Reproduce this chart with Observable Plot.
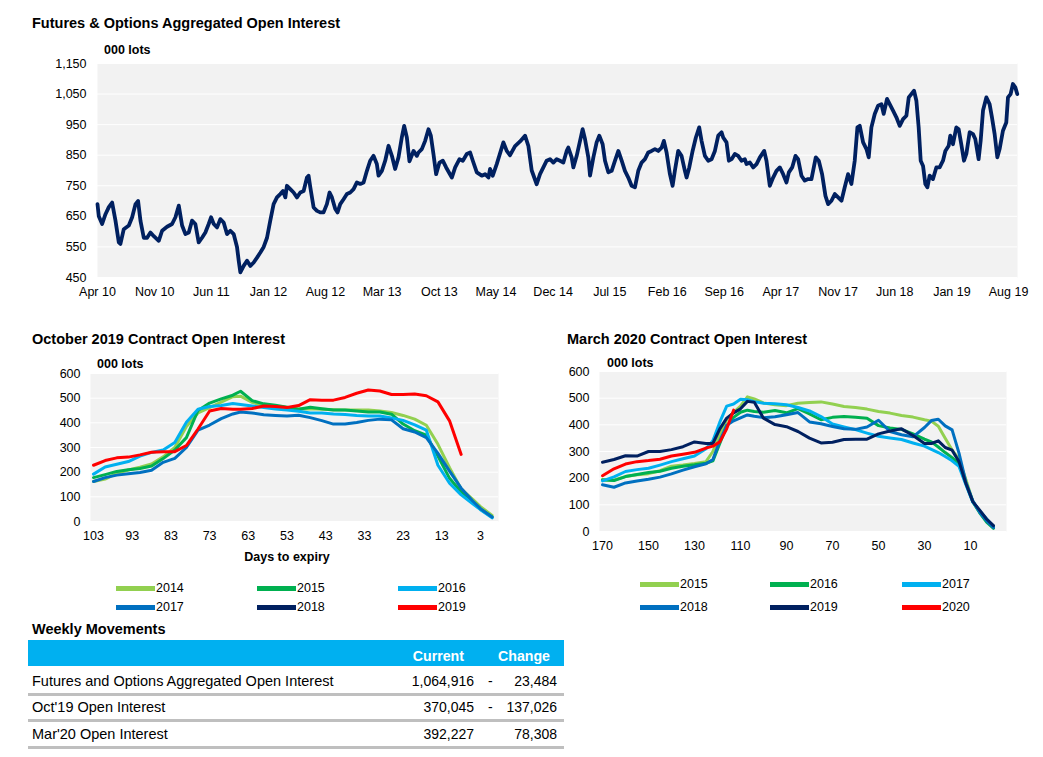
<!DOCTYPE html>
<html><head><meta charset="utf-8">
<script src="https://cdn.jsdelivr.net/npm/d3@7"></script>
<script src="https://cdn.jsdelivr.net/npm/@observablehq/plot@0.6"></script>
<style>
body{margin:0;background:#fff;font-family:"Liberation Sans",Arial,sans-serif;color:#000;}
#root{position:relative;width:1043px;height:757px;overflow:hidden;background:#fff;}
.abs{position:absolute;white-space:nowrap;}
.title{font-weight:bold;font-size:14.5px;}
.hdr{font-weight:bold;font-size:14.2px;}
.unit{font-weight:bold;font-size:12.5px;}
.txt{font-size:14.5px;}
.num{font-size:14px;}
.sw{position:absolute;width:39px;height:5px;}
</style></head><body><div id="root"></div><script>
// ---------------- DATA ----------------
// Top chart: [months since Apr 2010, open interest (000 lots)]
const oiObs = [[0,690],[0.16,650],[0.57,625],[0.98,657],[1.39,680],[1.8,695],[2.21,636],[2.62,565],[2.82,560],[3.23,608],[3.85,620],[4.26,647],[4.67,690],[4.99,700],[5.28,636],[5.69,580],[6.1,580],[6.51,597],[6.92,585],[7.53,570],[7.94,603],[8.55,616],[9.17,625],[9.58,647],[9.99,685],[10.4,620],[10.81,592],[11.22,597],[11.62,636],[12.03,625],[12.44,565],[12.85,580],[13.26,597],[13.67,625],[13.96,647],[14.29,625],[14.7,614],[15.1,641],[15.51,630],[15.92,592],[16.33,603],[16.74,592],[17.15,550],[17.36,505],[17.56,467],[17.97,488],[18.38,505],[18.79,488],[19.2,499],[19.61,515],[20.02,532],[20.43,550],[20.84,580],[21.24,636],[21.65,690],[22.06,712],[22.47,723],[22.8,733],[23.09,712],[23.29,750],[23.7,739],[24.11,728],[24.52,712],[24.93,728],[25.34,733],[25.75,777],[25.95,783],[26.16,745],[26.57,679],[26.98,668],[27.38,663],[27.79,663],[28.2,690],[28.53,728],[28.82,712],[29.23,674],[29.51,663],[29.84,690],[30.25,706],[30.66,723],[31.07,728],[31.48,739],[31.89,761],[32.3,756],[32.71,761],[33.12,799],[33.52,832],[33.93,848],[34.34,821],[34.55,783],[34.96,799],[35.37,832],[35.78,881],[36.19,848],[36.59,805],[37,843],[37.41,908],[37.7,946],[38.03,908],[38.35,830],[38.85,864],[39.26,848],[39.46,859],[39.87,870],[40.28,897],[40.69,935],[40.98,914],[41.3,854],[41.63,788],[42.04,826],[42.45,832],[42.86,810],[43.56,777],[43.97,810],[44.5,837],[44.91,832],[45.4,854],[45.81,859],[46.14,832],[46.63,794],[47.24,783],[47.65,788],[48.06,777],[48.26,805],[48.59,783],[49.08,821],[49.9,892],[50.31,864],[50.72,850],[51.33,880],[51.95,895],[52.56,914],[52.97,880],[53.38,800],[53.99,755],[54.4,788],[54.81,810],[55.22,832],[55.63,837],[56.04,826],[56.45,837],[56.86,832],[57.27,826],[57.68,864],[57.88,875],[58.29,843],[58.5,810],[58.91,848],[59.32,897],[59.64,935],[59.93,903],[60.34,843],[60.55,783],[60.96,843],[61.36,892],[61.69,914],[62.1,886],[62.39,832],[62.8,794],[63.21,799],[63.62,832],[64.03,864],[64.44,832],[64.84,799],[65.25,777],[65.66,750],[66.07,745],[66.48,799],[66.89,826],[67.3,837],[67.71,859],[68.12,864],[68.53,870],[68.94,864],[69.35,875],[69.63,897],[69.96,859],[70.37,788],[70.7,750],[70.98,799],[71.39,864],[71.8,848],[72.21,799],[72.42,777],[72.75,810],[73.16,864],[73.56,908],[73.97,941],[74.26,897],[74.67,848],[75.08,832],[75.49,837],[75.9,864],[76.31,914],[76.72,925],[76.92,908],[77.33,892],[77.62,832],[77.95,837],[78.35,854],[78.76,848],[79.17,832],[79.58,837],[79.79,821],[80.2,826],[80.61,810],[81.02,821],[81.43,843],[81.96,864],[82.24,832],[82.65,750],[83.06,777],[83.47,799],[83.88,810],[84.29,788],[84.7,761],[84.99,794],[85.4,810],[85.81,848],[86.13,837],[86.54,783],[86.95,767],[87.36,772],[87.77,772],[88.3,843],[88.67,832],[89.08,788],[89.49,717],[89.82,690],[90.23,701],[90.64,723],[91.05,712],[91.46,701],[91.86,745],[92.27,788],[92.68,756],[93.09,832],[93.42,941],[93.71,946],[94.12,892],[94.53,870],[94.81,843],[95.14,941],[95.55,985],[95.96,1012],[96.37,1017],[96.65,985],[97.06,1034],[97.39,1017],[97.8,996],[98.21,974],[98.62,946],[99.03,968],[99.44,979],[99.73,1039],[100.05,1050],[100.38,1061],[100.67,1028],[100.95,941],[101.2,832],[101.49,815],[101.77,756],[102.02,745],[102.3,783],[102.71,772],[103.12,810],[103.53,810],[103.94,832],[104.23,864],[104.64,881],[104.84,914],[105.17,886],[105.58,941],[105.87,935],[106.19,886],[106.52,832],[106.81,854],[107.22,925],[107.63,919],[107.91,903],[108.32,837],[108.57,897],[108.86,996],[109.27,1039],[109.67,1017],[109.96,974],[110.29,919],[110.62,843],[110.9,870],[111.31,930],[111.72,957],[111.93,1039],[112.25,1050],[112.54,1083],[112.83,1072],[113.07,1050]];
const oiTickLabels = ["Apr 10","Nov 10","Jun 11","Jan 12","Aug 12","Mar 13","Oct 13","May 14","Dec 14","Jul 15","Feb 16","Sep 16","Apr 17","Nov 17","Jun 18","Jan 19","Aug 19"];
const oiYTicks = [450,550,650,750,850,950,1050,1150];

// October 2019 contract (days to expiry)
const octDays = [103,100,97,94,91,88,85,82,79,76,73,70,67,65,62,59,56,53,50,47,44,41,38,35,32,29,26,23,20,17,14,11,8,5,3,0];
const oct2014 = [162,172,195,209,220,233,262,300,385,440,462,484,506,508,483,470,467,462,456,457,455,453,452,452,452,448,442,430,415,390,313,218,132,90,60,25];
const oct2015 = [178,190,203,210,215,225,255,290,340,450,480,497,512,528,490,477,471,463,455,463,457,452,452,448,444,444,435,395,368,350,265,175,120,80,50,18];
const oct2016 = [192,221,232,243,265,280,290,320,402,455,466,470,478,474,468,462,456,452,447,440,440,436,434,430,428,428,420,410,392,370,228,155,108,72,48,15];
const oct2017 = [162,178,188,194,199,208,240,256,300,370,391,417,436,444,440,433,430,428,431,421,409,395,395,401,410,415,412,376,363,340,276,204,135,83,52,18];
const oct2018 = [];
const oct2019 = [228,247,258,261,270,281,283,283,308,375,448,458,455,455,458,468,466,462,470,494,492,492,503,520,533,529,515,515,517,510,485,408,272,null,null,null];
const octYears = ["2014","2015","2016","2017","2018","2019"];
const octXTicks = [103,93,83,73,63,53,43,33,23,13,3];

// March 2020 contract
const marDays = [170,165,160,155,150,145,140,135,130,125,122,119,116,113,110,107,104,100,95,90,85,80,75,70,65,60,55,50,45,40,35,30,27,24,21,18,15,12,9,6,3,0];
const mar2015 = [195,193,206,213,217,228,245,249,255,262,300,365,420,447,470,505,497,482,475,472,481,484,486,478,469,465,459,450,444,435,429,419,414,395,350,306,270,195,112,72,40,15];
const mar2016 = [193,191,206,214,221,226,237,245,250,256,265,330,395,428,447,455,450,447,454,445,461,441,419,428,431,428,425,397,388,383,366,346,336,317,296,277,252,180,112,70,35,12];
const mar2017 = [190,205,225,232,237,249,262,273,283,310,340,410,470,478,496,494,487,481,479,475,465,452,431,403,392,382,369,357,351,345,332,320,308,296,281,265,244,175,110,77,47,18];
const mar2018 = [175,166,182,189,196,204,216,230,243,254,270,340,398,415,426,437,432,427,430,438,446,411,404,394,385,383,392,417,375,363,355,390,416,421,396,381,294,185,115,72,40,15];
const mar2019 = [260,270,284,283,300,300,307,318,336,330,330,385,425,445,460,488,485,425,401,393,375,350,332,335,345,346,346,366,377,385,360,330,330,340,315,305,262,180,112,80,47,22];
const mar2020 = [209,235,253,262,266,271,283,290,297,313,320,336,385,455];
const marYears = ["2015","2016","2017","2018","2019","2020"];
const marXTicks = [170,150,130,110,90,70,50,30,10];

const contractYTicks = [0,100,200,300,400,500,600];
const seriesColors = ["#92d050","#00b050","#00b0f0","#0070c0","#002060","#ff0000"];

// Weekly movements table
const tblRows = ["Futures and Options Aggregated Open Interest","Oct'19 Open Interest","Mar'20 Open Interest"];
const tblCurrent = [1064916, 370045, 392227];
const tblChange = [-23484, -137026, 78308];

// ---------------- RENDER ----------------
const root = document.getElementById("root");
const FONT = '"Liberation Sans", Arial, sans-serif';

function label(txt, x, yc, cls, anchor = "start", extra = {}) {
  const d = document.createElement("div");
  d.className = "abs " + (cls || "");
  d.textContent = txt;
  d.style.lineHeight = "20px";
  d.style.top = (yc - 10) + "px";
  if (anchor === "start") d.style.left = x + "px";
  else if (anchor === "end") d.style.right = (1043 - x) + "px";
  else { d.style.left = x + "px"; d.style.transform = "translateX(-50%)"; }
  Object.assign(d.style, extra);
  root.appendChild(d);
  return d;
}
function place(node, left, top, w) {
  const d = document.createElement("div");
  d.className = "abs";
  d.style.left = left + "px"; d.style.top = top + "px"; d.style.width = w + "px";
  node.style.maxWidth = "none";
  d.appendChild(node);
  root.appendChild(d);
}
const baseStyle = {fontFamily: FONT, fontSize: "12.5px", background: "transparent", color: "#000", overflow: "visible"};

// Top chart
const start = Date.UTC(2010, 3, 1);
const toDate = m => new Date(start + m * 30.4375 * 864e5);
const oiData = oiObs.map(([m, v]) => ({date: toDate(m), value: v}));
const parseTick = d3.utcParse("%b %y");
const oiTicks = oiTickLabels.map(parseTick);

label("Futures & Options Aggregated Open Interest", 32, 23, "title");
label("000 lots", 104, 50, "unit");
place(Plot.plot({
  width: 1043, height: 265,
  marginLeft: 97, marginRight: 26, marginTop: 23, marginBottom: 28,
  style: baseStyle,
  x: {type: "utc", domain: [toDate(0), toDate(113.1)], ticks: oiTicks, tickFormat: d3.utcFormat("%b %y"), tickSize: 0, tickPadding: 10, label: null},
  y: {domain: [450, 1150], ticks: oiYTicks, tickFormat: d3.format(","), tickSize: 0, tickPadding: 11, label: null},
  marks: [
    Plot.frame({fill: "#f2f2f2", stroke: "none"}),
    Plot.gridY(oiYTicks, {stroke: "#fff", strokeOpacity: 1, strokeWidth: 1}),
    Plot.lineY(oiData, {x: "date", y: "value", stroke: "#002060", strokeWidth: 3.8})
  ]
}), 0, 40, 1043);

// Contract charts
function contractChart(days, valuesList, years, xDomain, xTicks, w, h, m) {
  const marks = [
    Plot.frame({fill: "#f2f2f2", stroke: "none"}),
    Plot.gridY(contractYTicks, {stroke: "#fff", strokeOpacity: 1, strokeWidth: 1})
  ];
  valuesList.forEach((vals, i) => {
    const data = vals.map((v, j) => ({day: days[j], value: v})).filter(d => d.value != null);
    if (data.length) marks.push(Plot.line(data, {x: "day", y: "value", stroke: seriesColors[i], strokeWidth: 3}));
  });
  return Plot.plot({
    width: w, height: h,
    marginLeft: m[0], marginRight: m[1], marginTop: m[2], marginBottom: m[3],
    style: baseStyle,
    x: {domain: xDomain, ticks: xTicks, tickFormat: d => String(d), tickSize: 0, tickPadding: 10, label: null},
    y: {domain: [0, 600], ticks: contractYTicks, tickFormat: d => String(d), tickSize: 0, tickPadding: 10, label: null},
    marks
  });
}
function legend(years, cols, rows) {
  years.forEach((y, i) => {
    const cx = cols[i % 3], cy = rows[Math.floor(i / 3)];
    const s = document.createElement("div");
    s.className = "sw";
    s.style.left = cx + "px"; s.style.top = (cy - 2.5) + "px";
    s.style.background = seriesColors[i];
    root.appendChild(s);
    label(y, cx + 40, cy, "", "start", {fontSize: "12.5px"});
  });
}

label("October 2019 Contract Open Interest", 32, 339, "title");
label("000 lots", 97, 364, "unit");
place(contractChart(octDays, [oct2014, oct2015, oct2016, oct2017, oct2018, oct2019], octYears,
  [103.78, -1.65], octXTicks, 520, 200, [90, 22, 23, 29]), 0, 350, 520);
label("Days to expiry", 287, 557, "unit", "middle");
legend(octYears, [116, 257, 398], [588, 607]);

label("March 2020 Contract Open Interest", 567, 339, "title");
label("000 lots", 607, 363, "unit");
place(contractChart(marDays, [mar2015, mar2016, mar2017, mar2018, mar2019, mar2020], marYears,
  [171.3, -5.65], marXTicks, 503, 210, [59, 37, 21, 29]), 540, 350, 503);
legend(marYears, [640, 770, 902], [584, 607]);

// Table
label("Weekly Movements", 32, 629, "title");
const band = document.createElement("div");
band.className = "abs";
Object.assign(band.style, {left: "28px", top: "640px", width: "536px", height: "26px", background: "#00b0f0"});
root.appendChild(band);
label("Current", 464, 656, "hdr", "end", {color: "#fff"});
label("Change", 550, 656, "hdr", "end", {color: "#fff"});
const fmt = d3.format(",");
const rowY = [681, 707, 734];
tblRows.forEach((r, i) => {
  const yc = rowY[i];
  label(r, 32, yc, "txt");
  label(fmt(tblCurrent[i]), 474, yc, "num", "end");
  if (tblChange[i] < 0) label("-", 488, yc, "num");
  label(fmt(Math.abs(tblChange[i])), 557, yc, "num", "end");
  const ln = document.createElement("div");
  ln.className = "abs";
  Object.assign(ln.style, {left: "28px", top: (yc + 12) + "px", width: "536px", height: "3px", background: "#bfbfbf"});
  root.appendChild(ln);
});
</script></body></html>
